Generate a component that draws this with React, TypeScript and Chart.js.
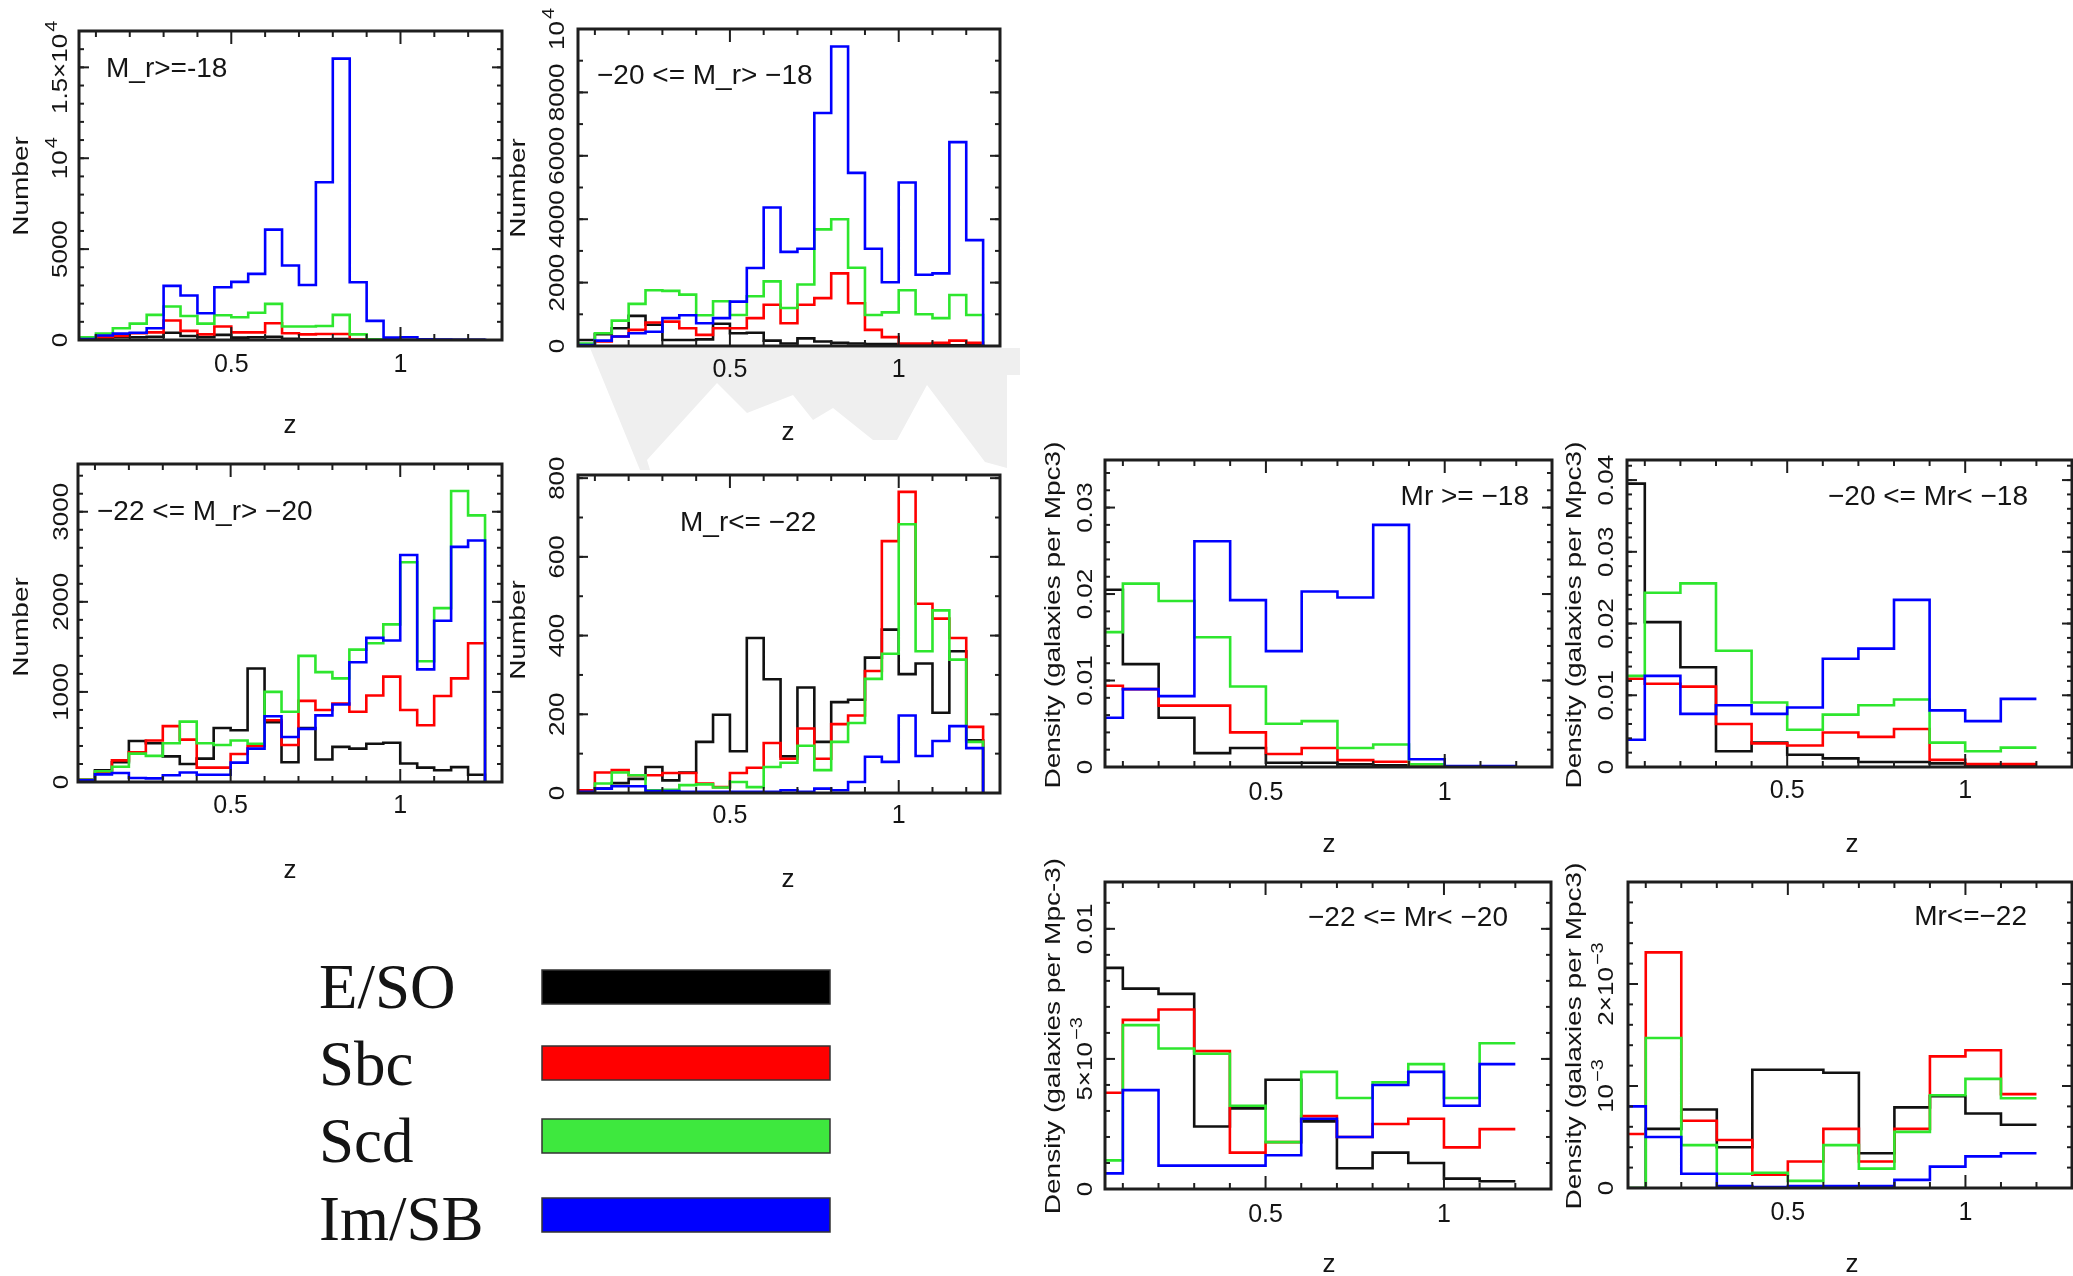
import React, { useEffect, useRef } from "react";
import { Chart, registerables } from "chart.js";

Chart.register(...registerables);

const PAGE_W = 2073;
const PAGE_H = 1276;

// ---- morphological types ----
const TYPE_NAMES = ["E/SO", "Sbc", "Scd", "Im/SB"];
const TYPE_COLORS = ["#111111", "#ff0000", "#2ee62e", "#0000ff"];
const LEGEND_COLORS = ["#000000", "#ff0000", "#3ee83e", "#0000ff"];

// ---- redshift bins ----
const NUMBER_EDGES = [
  0.05, 0.1, 0.15, 0.2, 0.25, 0.3, 0.35, 0.4, 0.45, 0.5, 0.55, 0.6, 0.65,
  0.7, 0.75, 0.8, 0.85, 0.9, 0.95, 1.0, 1.05, 1.1, 1.15, 1.2, 1.25,
];
const DENSITY_EDGES = [0.05, 0.1, 0.2, 0.3, 0.4, 0.5, 0.6, 0.7, 0.8, 0.9, 1.0, 1.1, 1.2];

const Z_TICKS = [0.5, 1];
const Z_TICK_LABELS = ["0.5", "1"];
const Z_MINOR = [0.1, 0.2, 0.3, 0.4, 0.6, 0.7, 0.8, 0.9, 1.1, 1.2];

// ---- galaxy counts, M_r >= -18 ----
const num18E = [20, 100, 150, 150, 180, 400, 220, 150, 280, 130, 150, 180, 70, 40, 40, 50, 0, 0, 0, 0, 0, 0, 0, 0];
const num18Sbc = [30, 150, 220, 370, 420, 1070, 500, 310, 740, 420, 420, 920, 370, 310, 330, 330, 30, 0, 0, 0, 0, 0, 0, 0];
const num18Scd = [150, 350, 650, 900, 1380, 1840, 1320, 900, 1360, 1250, 1500, 1990, 740, 740, 770, 1380, 310, 40, 20, 0, 0, 0, 0, 0];
const num18Im = [50, 250, 350, 400, 650, 2980, 2450, 1470, 2900, 3200, 3640, 6070, 4100, 3030, 8680, 15480, 3180, 1050, 130, 150, 40, 20, 10, 10];

// ---- galaxy counts, -20 <= M_r < -18 ----
const num20E = [190, 370, 560, 950, 670, 190, 190, 210, 700, 400, 420, 170, 80, 240, 140, 100, 80, 60, 60, 20, 20, 20, 20, 20];
const num20Sbc = [30, 140, 300, 510, 740, 770, 560, 350, 560, 560, 880, 1300, 720, 1300, 1510, 2290, 1350, 510, 280, 80, 80, 100, 170, 100];
const num20Scd = [80, 400, 800, 1330, 1760, 1740, 1620, 970, 1410, 980, 1570, 2040, 1200, 1940, 3680, 4000, 2470, 980, 1060, 1760, 1000, 880, 1610, 980];
const num20Im = [30, 170, 300, 400, 450, 880, 970, 720, 880, 1400, 2460, 4370, 2970, 3070, 7350, 9450, 5460, 3070, 2010, 5160, 2250, 2290, 6430, 3340];

// ---- galaxy counts, -22 <= M_r < -20 ----
const num22E = [25, 130, 220, 455, 430, 285, 200, 260, 600, 575, 1260, 665, 220, 600, 250, 390, 370, 425, 435, 205, 160, 130, 165, 80];
const num22Sbc = [25, 100, 240, 330, 460, 620, 470, 160, 160, 310, 400, 685, 410, 900, 800, 870, 780, 960, 1170, 800, 630, 955, 1150, 1540];
const num22Scd = [25, 120, 170, 315, 290, 430, 670, 430, 410, 460, 425, 1000, 780, 1400, 1220, 1150, 1470, 1540, 1750, 2440, 1340, 1930, 3230, 2960];
const num22Im = [20, 85, 100, 45, 40, 75, 105, 80, 80, 215, 370, 730, 500, 590, 740, 860, 1330, 1600, 1570, 2520, 1250, 1790, 2610, 2680];

// ---- galaxy counts, M_r <= -22 ----
const numBrightE = [5, 11, 25, 36, 66, 32, 52, 130, 199, 106, 394, 289, 93, 268, 130, 231, 237, 344, 415, 302, 329, 204, 360, 134];
const numBrightSbc = [7, 52, 58, 45, 45, 51, 51, 24, 15, 51, 64, 127, 87, 164, 87, 175, 197, 310, 640, 765, 481, 443, 394, 168];
const numBrightScd = [0, 24, 52, 45, 7, 8, 20, 22, 14, 28, 15, 66, 77, 120, 58, 130, 178, 290, 354, 683, 360, 464, 339, 130];
const numBrightIm = [3, 11, 17, 17, 5, 5, 3, 3, 3, 3, 3, 3, 7, 3, 11, 7, 28, 92, 79, 197, 94, 132, 170, 114];

// ---- space densities (galaxies per Mpc^3) ----
const den18E = [0.0205, 0.0119, 0.0057, 0.0016, 0.0022, 0.0005, 0.0005, 0.0003, 0.0002, 0, 0, 0];
const den18Sbc = [0.0094, 0.009, 0.0071, 0.0071, 0.004, 0.0015, 0.0022, 0.0008, 0.0006, 0.0001, 0, 0];
const den18Scd = [0.0156, 0.0212, 0.0192, 0.015, 0.0093, 0.005, 0.0053, 0.0022, 0.0026, 0.0003, 0, 0];
const den18Im = [0.0057, 0.009, 0.0082, 0.0261, 0.0193, 0.0134, 0.0203, 0.0196, 0.028, 0.0009, 0.0001, 0.0001];

const den20E = [0.0395, 0.0202, 0.0139, 0.0022, 0.0034, 0.0017, 0.0012, 0.0007, 0.0007, 0.0005, 0.0002, 0.0002];
const den20Sbc = [0.0123, 0.0116, 0.0112, 0.006, 0.0033, 0.003, 0.0048, 0.0042, 0.0053, 0.001, 0.0004, 0.0004];
const den20Scd = [0.0127, 0.0243, 0.0256, 0.0162, 0.009, 0.0052, 0.0073, 0.0086, 0.0094, 0.0034, 0.0022, 0.0027];
const den20Im = [0.0038, 0.0127, 0.0074, 0.0086, 0.0074, 0.0083, 0.0151, 0.0165, 0.0233, 0.0079, 0.0064, 0.0095];

const den22E = [0.0085, 0.0077, 0.0075, 0.0024, 0.0031, 0.0042, 0.0026, 0.0008, 0.0014, 0.001, 0.0004, 0.0003];
const den22Sbc = [0.0037, 0.0065, 0.0069, 0.0053, 0.0014, 0.0018, 0.0028, 0.002, 0.0025, 0.0027, 0.0016, 0.0023];
const den22Scd = [0.0011, 0.0063, 0.0054, 0.0052, 0.0032, 0.0018, 0.0045, 0.0035, 0.0041, 0.0048, 0.0035, 0.0056];
const den22Im = [0.0006, 0.0038, 0.0009, 0.0009, 0.0009, 0.0013, 0.0027, 0.002, 0.004, 0.0045, 0.0032, 0.0048];

const denBrightE = [0, 0.00058, 0.00077, 0.0004, 0.00116, 0.00116, 0.00113, 0.00034, 0.00079, 0.0009, 0.00073, 0.00062];
const denBrightSbc = [0.00053, 0.00231, 0.00066, 0.00047, 0.00013, 0.00026, 0.00058, 0.00026, 0.00058, 0.00129, 0.00135, 0.00092];
const denBrightScd = [0, 0.00147, 0.00042, 0.00014, 0.00015, 0.00007, 0.00042, 0.00019, 0.00055, 0.00091, 0.00107, 0.00088];
const denBrightIm = [0.0008, 0.0005, 0.00014, 0.00002, 0.00001, 0.00002, 0.00002, 0.00002, 0.00008, 0.00021, 0.00031, 0.00034];

// ---- y tick values and labels ("^" starts a superscript) ----
const yTicks18 = [0, 5000, 10000, 15000];
const yLabels18 = ["0", "5000", "10^4", "1.5\u00d710^4"];
const yTicks20 = [0, 2000, 4000, 6000, 8000, 10000];
const yLabels20 = ["0", "2000", "4000", "6000", "8000", "10^4"];
const yTicks22 = [0, 1000, 2000, 3000];
const yLabels22 = ["0", "1000", "2000", "3000"];
const yTicksBright = [0, 200, 400, 600, 800];
const yLabelsBright = ["0", "200", "400", "600", "800"];
const yTicksD18 = [0, 0.01, 0.02, 0.03];
const yLabelsD18 = ["0", "0.01", "0.02", "0.03"];
const yTicksD20 = [0, 0.01, 0.02, 0.03, 0.04];
const yLabelsD20 = ["0", "0.01", "0.02", "0.03", "0.04"];
const yTicksD22 = [0, 0.005, 0.01];
const yLabelsD22 = ["0", "5\u00d710^\u22123", "0.01"];
const yTicksDBright = [0, 0.001, 0.002];
const yLabelsDBright = ["0", "10^\u22123", "2\u00d710^\u22123"];

const INK = "#141414";
const SANS = "'Liberation Sans', Arial, Helvetica, sans-serif";
const SERIF = "'Liberation Serif', 'Times New Roman', serif";

type Panel = {
  area: [number, number, number, number];
  edges: number[];
  series: number[][];
  drop: boolean;
  yMax: number;
  yTicks: number[];
  yLabels: string[];
  yMinor: number;
  yLabelX: number;
  xLabelBase: number;
  title: string;
  titleX: number;
  titleY: number;
  label: string;
  labelX: number;
  labelBase: number;
  labelAlign: CanvasTextAlign;
  zX: number;
  zBase: number;
};

const PANELS: Panel[] = [
  {
    area: [79, 31, 502, 340], edges: NUMBER_EDGES, series: [num18E, num18Sbc, num18Scd, num18Im], drop: true,
    yMax: 17000, yTicks: yTicks18, yLabels: yLabels18, yMinor: 1000, yLabelX: 61, xLabelBase: 372,
    title: "Number", titleX: 22, titleY: 186, label: "M_r>=-18", labelX: 106, labelBase: 77, labelAlign: "left",
    zX: 290, zBase: 433,
  },
  {
    area: [578, 29, 1000, 346], edges: NUMBER_EDGES, series: [num20E, num20Sbc, num20Scd, num20Im], drop: true,
    yMax: 10000, yTicks: yTicks20, yLabels: yLabels20, yMinor: 1000, yLabelX: 558, xLabelBase: 377,
    title: "Number", titleX: 519, titleY: 188, label: "\u221220 <= M_r> \u221218", labelX: 597, labelBase: 84, labelAlign: "left",
    zX: 788, zBase: 440,
  },
  {
    area: [78, 464, 502, 782], edges: NUMBER_EDGES, series: [num22E, num22Sbc, num22Scd, num22Im], drop: true,
    yMax: 3530, yTicks: yTicks22, yLabels: yLabels22, yMinor: 200, yLabelX: 62, xLabelBase: 813,
    title: "Number", titleX: 22, titleY: 627, label: "\u221222 <= M_r> \u221220", labelX: 97, labelBase: 520, labelAlign: "left",
    zX: 290, zBase: 878,
  },
  {
    area: [578, 475, 1000, 793], edges: NUMBER_EDGES, series: [numBrightE, numBrightSbc, numBrightScd, numBrightIm], drop: true,
    yMax: 808, yTicks: yTicksBright, yLabels: yLabelsBright, yMinor: 100, yLabelX: 558, xLabelBase: 823,
    title: "Number", titleX: 519, titleY: 630, label: "M_r<= \u221222", labelX: 680, labelBase: 531, labelAlign: "left",
    zX: 788, zBase: 887,
  },
  {
    area: [1105, 460, 1552, 767], edges: DENSITY_EDGES, series: [den18E, den18Sbc, den18Scd, den18Im], drop: false,
    yMax: 0.0355, yTicks: yTicksD18, yLabels: yLabelsD18, yMinor: 0.002, yLabelX: 1086, xLabelBase: 800,
    title: "Density (galaxies per Mpc3)", titleX: 1054, titleY: 615, label: "Mr >= \u221218", labelX: 1529, labelBase: 505, labelAlign: "right",
    zX: 1329, zBase: 852,
  },
  {
    area: [1627, 460, 2072, 767], edges: DENSITY_EDGES, series: [den20E, den20Sbc, den20Scd, den20Im], drop: false,
    yMax: 0.0428, yTicks: yTicksD20, yLabels: yLabelsD20, yMinor: 0.002, yLabelX: 1607, xLabelBase: 798,
    title: "Density (galaxies per Mpc3)", titleX: 1575, titleY: 615, label: "\u221220 <= Mr< \u221218", labelX: 2028, labelBase: 505, labelAlign: "right",
    zX: 1852, zBase: 852,
  },
  {
    area: [1105, 882, 1551, 1189], edges: DENSITY_EDGES, series: [den22E, den22Sbc, den22Scd, den22Im], drop: false,
    yMax: 0.0118, yTicks: yTicksD22, yLabels: yLabelsD22, yMinor: 0.001, yLabelX: 1086, xLabelBase: 1222,
    title: "Density (galaxies per Mpc-3)", titleX: 1054, titleY: 1036, label: "\u221222 <= Mr< \u221220", labelX: 1508, labelBase: 926, labelAlign: "right",
    zX: 1329, zBase: 1272,
  },
  {
    area: [1628, 882, 2072, 1188], edges: DENSITY_EDGES, series: [denBrightE, denBrightSbc, denBrightScd, denBrightIm], drop: false,
    yMax: 0.003, yTicks: yTicksDBright, yLabels: yLabelsDBright, yMinor: 0.0002, yLabelX: 1607, xLabelBase: 1220,
    title: "Density (galaxies per Mpc3)", titleX: 1575, titleY: 1036, label: "Mr<=\u221222", labelX: 2027, labelBase: 925, labelAlign: "right",
    zX: 1852, zBase: 1272,
  },
];

// Legend placement
const LEGEND_TEXT_X = 319;
const LEGEND_BASELINES = [1008, 1085, 1162, 1240];
const LEGEND_BAR_X = 542;
const LEGEND_BAR_W = 288;
const LEGEND_BAR_H = 34;
const LEGEND_BAR_TOPS = [970, 1046, 1119, 1198];

// Light grey smear below the second panel
const SMEAR: [number, number][] = [
  [590, 348], [1020, 348], [1020, 375], [1007, 375], [1007, 468], [985, 462], [927, 385], [897, 440],
  [873, 440], [833, 408], [813, 420], [793, 395], [747, 413], [717, 383], [647, 460], [650, 470],
  [640, 470],
];

function stepPoints(edges: number[], vals: number[], drop: boolean) {
  const pts = vals.map((v, i) => ({ x: edges[i], y: v }));
  pts.push({ x: edges[edges.length - 1], y: drop ? 0 : vals[vals.length - 1] });
  return pts;
}

function drawText(
  ctx: CanvasRenderingContext2D,
  s: string,
  x: number,
  y: number,
  font: string,
  align: CanvasTextAlign,
  baseline: CanvasTextBaseline,
  rotated = false,
  sx = 1
) {
  ctx.save();
  ctx.translate(x, y);
  ctx.scale(sx, 1);
  if (rotated) ctx.rotate(-Math.PI / 2);
  ctx.font = font;
  ctx.textAlign = align;
  ctx.textBaseline = baseline;
  ctx.fillStyle = INK;
  ctx.fillText(s, 0, 0);
  ctx.restore();
}

// Rotated tick label, centred on (x, y); text after "^" is set as a superscript.
function drawTickLabel(ctx: CanvasRenderingContext2D, s: string, x: number, y: number, size: number, sx: number) {
  const [base, sup] = s.split("^");
  const fb = `${size}px ${SANS}`;
  const fs = `${Math.round(size * 0.78)}px ${SANS}`;
  ctx.save();
  ctx.translate(x, y);
  ctx.scale(sx, 1);
  ctx.rotate(-Math.PI / 2);
  ctx.fillStyle = INK;
  ctx.textAlign = "left";
  ctx.textBaseline = "middle";
  ctx.font = fb;
  const wb = ctx.measureText(base).width;
  let ws = 0;
  if (sup) {
    ctx.font = fs;
    ws = ctx.measureText(sup).width + 2;
  }
  const x0 = -(wb + ws) / 2;
  ctx.font = fb;
  ctx.fillText(base, x0, 0);
  if (sup) {
    ctx.font = fs;
    ctx.fillText(sup, x0 + wb + 2, -size * 0.4);
  }
  ctx.restore();
}

function decorPlugin(p: Panel, withLegend: boolean, withSmear: boolean) {
  return {
    id: "panelDecor",
    beforeDraw(chart: Chart) {
      if (!withSmear) return;
      const ctx = chart.ctx;
      ctx.save();
      ctx.fillStyle = "#efefef";
      ctx.beginPath();
      SMEAR.forEach(([x, y], i) => (i === 0 ? ctx.moveTo(x, y) : ctx.lineTo(x, y)));
      ctx.closePath();
      ctx.fill();
      ctx.restore();
    },
    afterDraw(chart: Chart) {
      const ctx = chart.ctx;
      const { left, top, right, bottom } = chart.chartArea;
      const xs = chart.scales.x;
      const ys = chart.scales.y;
      ctx.save();
      ctx.strokeStyle = "#1e1e1e";
      ctx.lineCap = "butt";

      // inward ticks on all four sides
      ctx.lineWidth = 2;
      const tick = (x1: number, y1: number, x2: number, y2: number) => {
        ctx.beginPath();
        ctx.moveTo(x1, y1);
        ctx.lineTo(x2, y2);
        ctx.stroke();
      };
      const xTick = (v: number, len: number) => {
        const px = xs.getPixelForValue(v);
        tick(px, bottom, px, bottom - len);
        tick(px, top, px, top + len);
      };
      Z_MINOR.forEach((v) => xTick(v, 6));
      Z_TICKS.forEach((v) => xTick(v, 13));
      const yTick = (v: number, len: number) => {
        const py = ys.getPixelForValue(v);
        tick(left, py, left + len, py);
        tick(right, py, right - len, py);
      };
      const nMinor = Math.floor(p.yMax / p.yMinor + 1e-6);
      for (let i = 1; i <= nMinor; i++) yTick(i * p.yMinor, 5);
      p.yTicks.forEach((v) => yTick(v, 10));

      // frame
      ctx.lineWidth = 3;
      ctx.strokeRect(left, top, right - left, bottom - top);
      ctx.restore();

      // tick labels
      Z_TICKS.forEach((v, i) =>
        drawText(ctx, Z_TICK_LABELS[i], xs.getPixelForValue(v), p.xLabelBase, `25px ${SANS}`, "center", "alphabetic")
      );
      p.yTicks.forEach((v, i) => drawTickLabel(ctx, p.yLabels[i], p.yLabelX, ys.getPixelForValue(v), 26, 0.82));

      // axis titles
      drawText(ctx, "z", p.zX, p.zBase, `26px ${SANS}`, "center", "alphabetic");
      drawText(ctx, p.title, p.titleX, p.titleY, `28px ${SANS}`, "center", "middle", true, 0.82);

      // magnitude range
      drawText(ctx, p.label, p.labelX, p.labelBase, `28px ${SANS}`, p.labelAlign, "alphabetic");

      if (withLegend) {
        TYPE_NAMES.forEach((name, k) => {
          ctx.save();
          drawText(ctx, name, LEGEND_TEXT_X, LEGEND_BASELINES[k], `63px ${SERIF}`, "left", "alphabetic");
          ctx.fillStyle = LEGEND_COLORS[k];
          ctx.fillRect(LEGEND_BAR_X, LEGEND_BAR_TOPS[k], LEGEND_BAR_W, LEGEND_BAR_H);
          ctx.strokeStyle = "#333333";
          ctx.lineWidth = 1.5;
          ctx.strokeRect(LEGEND_BAR_X, LEGEND_BAR_TOPS[k], LEGEND_BAR_W, LEGEND_BAR_H);
          ctx.restore();
        });
      }
    },
  };
}

function makeChart(canvas: HTMLCanvasElement, p: Panel, idx: number) {
  const [l, t, r, b] = p.area;
  return new Chart(canvas, {
    type: "line",
    data: {
      datasets: p.series.map((vals, k) => ({
        label: TYPE_NAMES[k],
        data: stepPoints(p.edges, vals, p.drop),
        borderColor: TYPE_COLORS[k],
        backgroundColor: TYPE_COLORS[k],
        borderWidth: 2.6,
        stepped: "before" as const,
        pointRadius: 0,
        fill: false,
        order: TYPE_NAMES.length - k,
      })),
    },
    options: {
      animation: false,
      responsive: false,
      devicePixelRatio: 1,
      events: [],
      layout: { padding: { left: l, top: t, right: PAGE_W - r, bottom: PAGE_H - b } },
      plugins: { legend: { display: false }, tooltip: { enabled: false } },
      scales: {
        x: { type: "linear", min: 0.05, max: 1.3, display: false },
        y: { type: "linear", min: 0, max: p.yMax, display: false },
      },
    },
    plugins: [decorPlugin(p, idx === 0, idx === 1)],
  });
}

export default function App() {
  const refs = useRef<(HTMLCanvasElement | null)[]>([]);

  useEffect(() => {
    const charts = PANELS.map((p, i) => makeChart(refs.current[i] as HTMLCanvasElement, p, i));
    return () => charts.forEach((c) => c.destroy());
  }, []);

  return (
    <div
      style={{
        position: "absolute",
        left: 0,
        top: 0,
        width: PAGE_W,
        height: PAGE_H,
        background: "#ffffff",
        overflow: "hidden",
      }}
    >
      {PANELS.map((_, i) => (
        <canvas
          key={i}
          ref={(el) => {
            refs.current[i] = el;
          }}
          width={PAGE_W}
          height={PAGE_H}
          style={{ position: "absolute", left: 0, top: 0 }}
        />
      ))}
    </div>
  );
}
